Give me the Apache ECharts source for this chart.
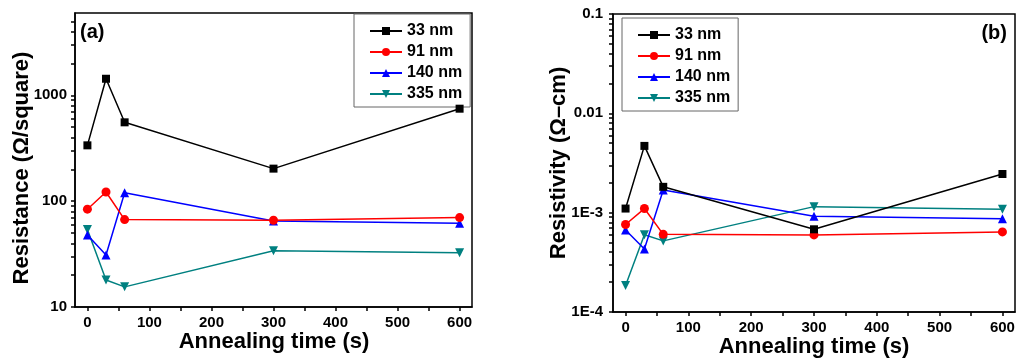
<!DOCTYPE html>
<html>
<head>
<meta charset="utf-8">
<script src="https://cdn.jsdelivr.net/npm/echarts@6/dist/echarts.min.js"></script>
<style>
html,body{margin:0;padding:0;background:#fff;}
#chart{width:1024px;height:362px;}
</style>
</head>
<body>
<div id="chart"></div>
<script>
// ---- data ----
const times = [0, 30, 60, 300, 600];
const seriesNames = ['33 nm', '91 nm', '140 nm', '335 nm'];
const resistance33 = [337, 1435, 556, 203, 748];
const resistance91 = [84, 122, 67, 66, 70];
const resistance140 = [48, 31, 120, 65, 62];
const resistance335 = [54, 18, 15.5, 34, 32.5];
const resistivity33 = [1.10e-3, 4.7e-3, 1.82e-3, 6.8e-4, 2.45e-3];
const resistivity91 = [7.6e-4, 1.10e-3, 6.05e-4, 5.97e-4, 6.4e-4];
const resistivity140 = [6.7e-4, 4.3e-4, 1.69e-3, 9.2e-4, 8.7e-4];
const resistivity335 = [1.85e-4, 6.0e-4, 5.2e-4, 1.15e-3, 1.08e-3];

// ---- ticks ----
const xTickValues = [0, 100, 200, 300, 400, 500, 600];
const xMinorTickValues = [50, 150, 250, 350, 450, 550];
const leftYTickValues = [10, 100, 1000];
const leftYTickLabels = ['10', '100', '1000'];
const leftYMinorTickValues = [20, 30, 40, 50, 60, 70, 80, 90, 200, 300, 400, 500, 600, 700, 800, 900, 2000, 3000, 4000, 5000];
const rightYTickValues = [1e-4, 1e-3, 1e-2, 1e-1];
const rightYTickLabels = ['1E-4', '1E-3', '0.01', '0.1'];
const rightYMinorTickValues = [2e-4, 3e-4, 4e-4, 5e-4, 6e-4, 7e-4, 8e-4, 9e-4, 2e-3, 3e-3, 4e-3, 5e-3, 6e-3, 7e-3, 8e-3, 9e-3, 2e-2, 3e-2, 4e-2, 5e-2, 6e-2, 7e-2, 8e-2, 9e-2];

const FONT = '"Liberation Sans", Arial, sans-serif';
const colors = ['#000000', '#ff0000', '#0000ff', '#008080'];
const symbols = ['rect', 'circle', 'triangle', 'path://M0,0 L10,0 L5,9 Z'];
const symbolSizes = [8, 9, 9, 9];

function pair(xs, ys) { return xs.map((x, i) => [x, ys[i]]); }
function labelFor(values, labels) {
  return function (v) {
    let best = 0, bd = Infinity;
    values.forEach((t, i) => { const d = Math.abs(Math.log10(t) - Math.log10(v)); if (d < bd) { bd = d; best = i; } });
    return labels[best];
  };
}

const axisLineStyle = { color: '#000', width: 1.5 };
const tickLabelStyle = { color: '#000', fontFamily: FONT, fontWeight: 'bold', fontSize: 15 };

function xAxisFor(gridIndex) {
  return {
    type: 'value', gridIndex, min: -20, max: 620, position: 'bottom',
    axisLine: { show: true, onZero: false, lineStyle: axisLineStyle },
    axisTick: { show: true, inside: false, length: 4, lineStyle: axisLineStyle, customValues: xTickValues.concat(xMinorTickValues) },
    axisLabel: Object.assign({ margin: 8, customValues: xTickValues }, tickLabelStyle),
    splitLine: { show: false }
  };
}
function yAxisFor(gridIndex, min, max, ticks, labels, minor, margin) {
  return {
    type: 'log', logBase: 10, gridIndex, min, max, position: 'left',
    axisLine: { show: true, onZero: false, lineStyle: axisLineStyle },
    axisTick: { show: true, inside: false, length: 4, lineStyle: axisLineStyle, customValues: ticks.concat(minor) },
    axisLabel: Object.assign({ margin, customValues: ticks, formatter: labelFor(ticks, labels) }, tickLabelStyle),
    splitLine: { show: false }
  };
}

function makeSeries(dataArrays, axisIndex) {
  return dataArrays.map((arr, i) => ({
    name: seriesNames[i],
    type: 'line',
    xAxisIndex: axisIndex, yAxisIndex: axisIndex,
    data: pair(times, arr),
    symbol: symbols[i],
    symbolSize: symbolSizes[i],
    showAllSymbol: true,
    lineStyle: { color: colors[i], width: 1.5 },
    itemStyle: { color: colors[i] },
    animation: false,
    z: 10 - i
  }));
}

function legend(left, top) {
  return {
    data: seriesNames,
    orient: 'vertical',
    left, top,
    itemWidth: 32, itemHeight: 10, itemGap: 5,
    padding: [9, 8, 5, 15],
    borderColor: '#666', borderWidth: 1,
    backgroundColor: '#fff',
    selectedMode: false,
    textStyle: { color: '#000', fontFamily: FONT, fontWeight: 'bold', fontSize: 16, lineHeight: 15 }
  };
}

const titleStyle = { fill: '#000', font: 'bold 22px ' + FONT, textAlign: 'center', textVerticalAlign: 'middle' };
const frame = { show: true, borderColor: '#000', borderWidth: 1.5, backgroundColor: 'transparent' };

const option = {
  animation: false,
  backgroundColor: '#fff',
  grid: [
    Object.assign({ left: 75, top: 13, width: 397, height: 294 }, frame),
    Object.assign({ left: 613, top: 14, width: 402, height: 298 }, frame)
  ],
  xAxis: [xAxisFor(0), xAxisFor(1)],
  yAxis: [
    yAxisFor(0, 10, 6000, leftYTickValues, leftYTickLabels, leftYMinorTickValues, 8),
    yAxisFor(1, 1e-4, 0.1, rightYTickValues, rightYTickLabels, rightYMinorTickValues, 10)
  ],
  legend: [legend(354, 14), legend(622, 18)],
  series: makeSeries([resistance33, resistance91, resistance140, resistance335], 0)
    .concat(makeSeries([resistivity33, resistivity91, resistivity140, resistivity335], 1)),
  graphic: [
    { type: 'text', x: 22, y: 168, rotation: Math.PI / 2, style: Object.assign({ text: 'Resistance (Ω/square)' }, titleStyle) },
    { type: 'text', x: 274, y: 342, style: Object.assign({ text: 'Annealing time (s)' }, titleStyle) },
    { type: 'text', x: 559, y: 163, rotation: Math.PI / 2, style: Object.assign({ text: 'Resistivity (Ω–cm)' }, titleStyle) },
    { type: 'text', x: 814, y: 347, style: Object.assign({ text: 'Annealing time (s)' }, titleStyle) },
    { type: 'text', x: 80, y: 32, style: { text: '(a)', fill: '#000', font: 'bold 20px ' + FONT, textAlign: 'left', textVerticalAlign: 'middle' } },
    { type: 'text', x: 1007, y: 33, style: { text: '(b)', fill: '#000', font: 'bold 20px ' + FONT, textAlign: 'right', textVerticalAlign: 'middle' } }
  ]
};

const chart = echarts.init(document.getElementById('chart'), null, { renderer: 'canvas' });
chart.setOption(option);
</script>
</body>
</html>
